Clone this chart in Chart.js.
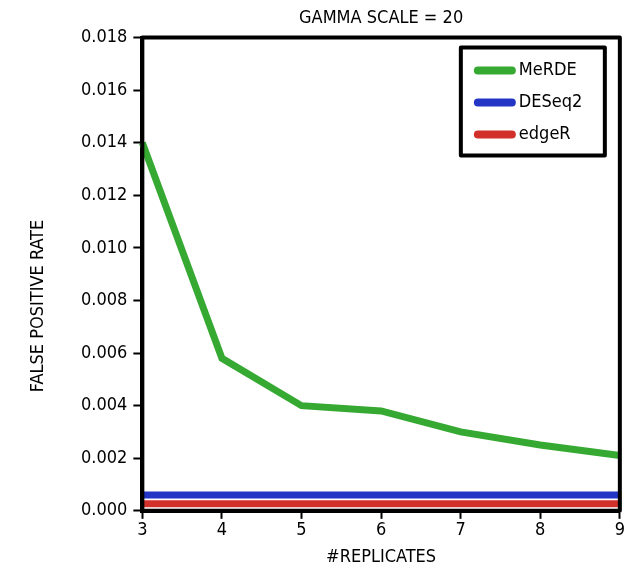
<!DOCTYPE html>
<html>
<head>
<meta charset="utf-8">
<script src="https://cdn.jsdelivr.net/npm/chart.js@4"></script>
<style>
    html, body { margin: 0; padding: 0; background: #fff; }
    #wrap { width: 626px; height: 575px; }
</style>
</head>
<body>
<div id="wrap"><canvas id="fprChart"></canvas></div>
<script>
const replicates = ["3", "4", "5", "6", "7", "8", "9"];
const merdeFpr = [0.0140, 0.0058, 0.0040, 0.0038, 0.0030, 0.0025, 0.0021];
const deseq2Fpr = [0.0006, 0.0006, 0.0006, 0.0006, 0.0006, 0.0006, 0.0006];
const edgerFpr = [0.00027, 0.00027, 0.00027, 0.00027, 0.00027, 0.00027, 0.00027];
const yTicks = [0, 0.002, 0.004, 0.006, 0.008, 0.010, 0.012, 0.014, 0.016, 0.018];
const yTitle = "FALSE POSITIVE RATE";

const FONT = "'DejaVu Sans Condensed', 'DejaVu Sans', sans-serif";

// frame round the plot area, a boxed legend in the upper right,
// and the y title (sits a bit below the axis middle in the original)
const frameAndLegend = {
    id: "frameAndLegend",
    afterDatasetsDraw(chart) {
        const { ctx, chartArea } = chart;
        ctx.save();
        ctx.strokeStyle = "#000";
        ctx.lineWidth = 4;
        ctx.lineJoin = "round";
        ctx.strokeRect(
            chartArea.left,
            chartArea.top,
            chartArea.right - chartArea.left,
            chartArea.bottom - chartArea.top
        );

        const boxX = chartArea.right - 159;
        const boxY = chartArea.top + 10;
        const boxW = 144;
        const boxH = 108;
        ctx.fillStyle = "#fff";
        ctx.fillRect(boxX, boxY, boxW, boxH);
        ctx.strokeRect(boxX, boxY, boxW, boxH);

        ctx.font = "18px " + FONT;
        ctx.textBaseline = "middle";
        ctx.lineCap = "round";
        chart.data.datasets.forEach((ds, i) => {
            const rowY = boxY + 23 + i * 32;
            ctx.strokeStyle = ds.borderColor;
            ctx.lineWidth = 8;
            ctx.beginPath();
            ctx.moveTo(boxX + 17, rowY);
            ctx.lineTo(boxX + 51, rowY);
            ctx.stroke();
            ctx.fillStyle = "#000";
            ctx.fillText(ds.label, boxX + 58, rowY);
        });

        ctx.translate(38, 306);
        ctx.rotate(-Math.PI / 2);
        ctx.textAlign = "center";
        ctx.fillText(yTitle, 0, 0);
        ctx.restore();
    }
};

new Chart(document.getElementById("fprChart"), {
    type: "line",
    data: {
        labels: replicates,
        datasets: [
            {
                label: "MeRDE",
                data: merdeFpr,
                borderColor: "#36a932",
                borderWidth: 7,
                tension: 0,
                pointRadius: 0
            },
            {
                label: "DESeq2",
                data: deseq2Fpr,
                borderColor: "#2335c4",
                borderWidth: 7,
                tension: 0,
                pointRadius: 0
            },
            {
                label: "edgeR",
                data: edgerFpr,
                borderColor: "#d2302b",
                borderWidth: 7,
                tension: 0,
                pointRadius: 0
            }
        ]
    },
    options: {
        responsive: true,
        maintainAspectRatio: false,
        animation: false,
        layout: {
            padding: { left: 75, right: 6, top: 8, bottom: 7 }
        },
        plugins: {
            legend: { display: false },
            tooltip: { enabled: false },
            title: {
                display: true,
                fullSize: false,
                text: "GAMMA SCALE = 20",
                color: "#000",
                font: { family: FONT, size: 18, weight: "normal" },
                padding: { top: 0, bottom: 8 }
            }
        },
        scales: {
            x: {
                offset: false,
                grid: {
                    display: true,
                    drawOnChartArea: false,
                    drawTicks: true,
                    tickLength: 8,
                    tickWidth: 2,
                    tickColor: "#000"
                },
                border: { display: true, color: "#000", width: 4 },
                ticks: {
                    color: "#000",
                    padding: 1,
                    maxRotation: 0,
                    font: { family: FONT, size: 18 }
                },
                title: {
                    display: true,
                    text: "#REPLICATES",
                    color: "#000",
                    font: { family: FONT, size: 18 },
                    padding: { top: 4, bottom: 0 }
                }
            },
            y: {
                min: 0,
                max: 0.018,
                afterBuildTicks: (scale) => {
                    scale.ticks = yTicks.map(v => ({ value: v }));
                },
                grid: {
                    display: true,
                    drawOnChartArea: false,
                    drawTicks: true,
                    tickLength: 9,
                    tickWidth: 2,
                    tickColor: "#000"
                },
                border: { display: true, color: "#000", width: 4 },
                ticks: {
                    color: "#000",
                    padding: 6,
                    font: { family: FONT, size: 18 },
                    callback: (value) => Number(value).toFixed(3)
                }
            }
        }
    },
    plugins: [frameAndLegend]
});
</script>
</body>
</html>
